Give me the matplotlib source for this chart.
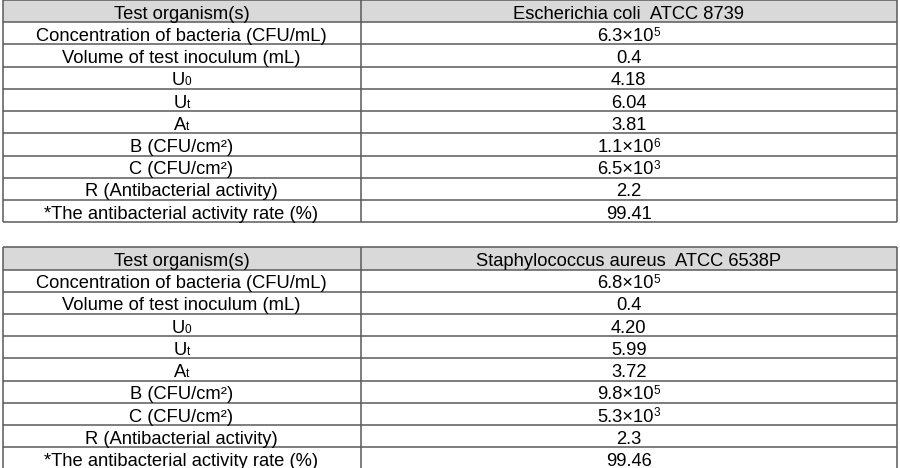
import re
import matplotlib
matplotlib.use("Agg")
import matplotlib.pyplot as plt
from matplotlib.patches import Rectangle

plt.rcParams['font.family'] = ['Liberation Sans', 'DejaVu Sans']

# Simple markup: _{..} = small subscript on baseline, ^{..} = small superscript
row_labels = [
    "Test organism(s)",
    "Concentration of bacteria (CFU/mL)",
    "Volume of test inoculum (mL)",
    "U_{0}",
    "U_{t}",
    "A_{t}",
    "B (CFU/cm²)",
    "C (CFU/cm²)",
    "R (Antibacterial activity)",
    "*The antibacterial activity rate (%)",
]

table1_values = [
    "Escherichia coli  ATCC 8739",
    "6.3×10^{5}",
    "0.4",
    "4.18",
    "6.04",
    "3.81",
    "1.1×10^{6}",
    "6.5×10^{3}",
    "2.2",
    "99.41",
]

table2_values = [
    "Staphylococcus aureus  ATCC 6538P",
    "6.8×10^{5}",
    "0.4",
    "4.20",
    "5.99",
    "3.72",
    "9.8×10^{5}",
    "5.3×10^{3}",
    "2.3",
    "99.46",
]

W, H = 900, 468
fig = plt.figure(figsize=(W / 100, H / 100), dpi=100)
ax = fig.add_axes([0, 0, 1, 1])
ax.set_xlim(0, W)
ax.set_ylim(H, 0)
ax.axis('off')
renderer = fig.canvas.get_renderer()

x_left, x_div, x_right = 2.5, 360.5, 897
row_h = 22.23
line_color = '#5a5a5a'
lw = 1.1
fs = 13.2
small = 0.64
baseline_off = 18.6
fs_px = fs * 100 / 72
sup_raise = 0.716 * fs_px * (1 - small) + 0.6


def parse(s):
    parts = []
    pos = 0
    for m in re.finditer(r'([_^])\{([^}]*)\}', s):
        if m.start() > pos:
            parts.append((s[pos:m.start()], 'n'))
        parts.append((m.group(2), 'sub' if m.group(1) == '_' else 'sup'))
        pos = m.end()
    if pos < len(s):
        parts.append((s[pos:], 'n'))
    return parts


def cell_text(xc, yb, s):
    parts = parse(s)
    texts = []
    for txt, kind in parts:
        size = fs if kind == 'n' else fs * small
        dy = -sup_raise if kind == 'sup' else 0.0
        t = ax.text(0, yb + dy, txt, ha='left', va='baseline',
                    fontsize=size, color='black', zorder=3)
        texts.append(t)
    widths = [t.get_window_extent(renderer).width for t in texts]
    total = sum(widths)
    x = xc - total / 2
    for t, w in zip(texts, widths):
        t.set_x(x)
        x += w


def draw_table(top, labels, values):
    n = len(labels)
    ax.add_patch(Rectangle((x_left, top), x_right - x_left, row_h,
                           facecolor='#d9d9d9', edgecolor='none', zorder=0))
    for k in range(n + 1):
        y = top + k * row_h
        ax.plot([x_left, x_right], [y, y], color=line_color, lw=lw,
                solid_capstyle='butt', zorder=2)
    bottom = top + n * row_h
    for x in (x_left, x_div, x_right):
        ax.plot([x, x], [top, bottom], color=line_color, lw=lw,
                solid_capstyle='butt', zorder=2)
    for i, (lab, val) in enumerate(zip(labels, values)):
        yb = top + i * row_h + baseline_off
        cell_text((x_left + x_div) / 2, yb, lab)
        cell_text((x_div + x_right) / 2, yb, val)


draw_table(0.0, row_labels, table1_values)
draw_table(247.3, row_labels, table2_values)

fig.savefig("out.png", dpi=100, facecolor='white')
